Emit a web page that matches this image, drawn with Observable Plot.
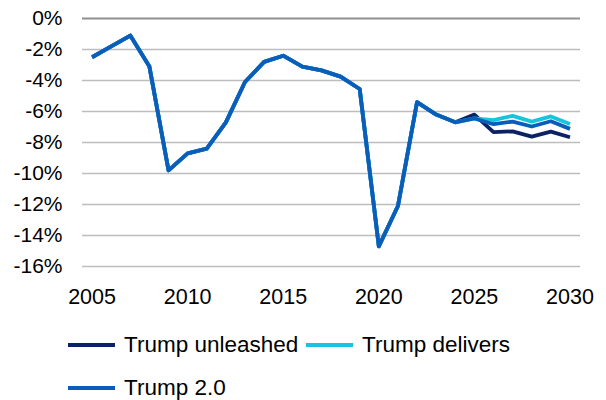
<!DOCTYPE html>
<html>
<head>
<meta charset="utf-8">
<script src="https://cdn.jsdelivr.net/npm/d3@7"></script>
<script src="https://cdn.jsdelivr.net/npm/@observablehq/plot@0.6"></script>
<style>
  html, body { margin: 0; padding: 0; background: #fff; }
  #wrap { position: relative; width: 606px; height: 400px; font-family: "Liberation Sans", Arial, sans-serif; }
  .leg { position: absolute; display: flex; align-items: center; font-size: 22.5px; color: #000; white-space: nowrap; }
  .sw { width: 47px; height: 4px; margin-right: 9px; }
</style>
</head>
<body>
<div id="wrap"></div>
<script>
// History (shared by all scenarios), 2005–2024
const histYears = [2005,2006,2007,2008,2009,2010,2011,2012,2013,2014,2015,2016,2017,2018,2019,2020,2021,2022,2023,2024];
const histValues = [-2.5,-1.8,-1.1,-3.1,-9.8,-8.7,-8.4,-6.7,-4.1,-2.8,-2.4,-3.1,-3.35,-3.75,-4.55,-14.7,-12.1,-5.4,-6.2,-6.7];

// Scenario forecasts, 2024–2030
const fcYears = [2024,2025,2026,2027,2028,2029,2030];
const unleashed = [-6.7,-6.2,-7.33,-7.28,-7.62,-7.3,-7.66];
const delivers  = [-6.7,-6.45,-6.55,-6.28,-6.65,-6.32,-6.8];
const trump20   = [-6.7,-6.45,-6.82,-6.65,-6.97,-6.63,-7.12];

const seriesNames = ["Trump unleashed", "Trump delivers", "Trump 2.0"];
const seriesColors = ["#0b2265", "#17c3dd", "#0a5dbb"];

const yTicks = [0,-2,-4,-6,-8,-10,-12,-14,-16];
const xTicks = [2005,2010,2015,2020,2025,2030];

const rows = [];
const fcMap = {"Trump unleashed": unleashed, "Trump delivers": delivers, "Trump 2.0": trump20};
for (const name of seriesNames) {
  histYears.forEach((y, i) => { if (y < 2024) rows.push({series: name, year: y, value: histValues[i]}); });
  fcYears.forEach((y, i) => rows.push({series: name, year: y, value: fcMap[name][i]}));
}

const fmt = d => (d < 0 ? "-" : "") + Math.abs(d) + "%";

const chart = Plot.plot({
  width: 606,
  height: 320,
  marginLeft: 82,
  marginRight: 26,
  marginTop: 18,
  marginBottom: 54,
  style: { fontFamily: "'Liberation Sans', Arial, sans-serif", fontSize: "21px", color: "#000", background: "#fff" },
  x: { domain: [2004.5, 2030.55], ticks: xTicks, tickFormat: d => String(d), tickSize: 0, tickPadding: 22, label: null },
  y: { domain: [-16, 0], ticks: yTicks, tickFormat: fmt, tickSize: 0, tickPadding: 20, label: null },
  color: { domain: seriesNames, range: seriesColors },
  marks: [
    Plot.ruleY(yTicks.filter(d => d !== 0), { stroke: "#bdbdbd", strokeWidth: 1.5 }),
    Plot.ruleY([0], { stroke: "#8f8f8f", strokeWidth: 2 }),
    Plot.axisX({ ticks: xTicks, tickFormat: d => String(d), tickSize: 0, tickPadding: 22, fontSize: 21.5, label: null }),
    Plot.axisY({ ticks: yTicks, tickFormat: fmt, tickSize: 0, tickPadding: 20, fontSize: 21, label: null }),
    Plot.line(rows, { x: "year", y: "value", z: "series", stroke: "series", strokeWidth: 3.8, strokeLinejoin: "round", strokeLinecap: "butt" })
  ]
});

const wrap = document.getElementById("wrap");
wrap.appendChild(chart);

const legendPos = [
  { left: 68, top: 345 },
  { left: 306, top: 345 },
  { left: 68, top: 388 }
];
seriesNames.forEach((name, i) => {
  const d = document.createElement("div");
  d.className = "leg";
  d.style.left = legendPos[i].left + "px";
  d.style.top = (legendPos[i].top - 14) + "px";
  d.style.height = "28px";
  const sw = document.createElement("span");
  sw.className = "sw";
  sw.style.background = seriesColors[i];
  const t = document.createElement("span");
  t.textContent = name;
  d.appendChild(sw);
  d.appendChild(t);
  wrap.appendChild(d);
});
</script>
</body>
</html>
